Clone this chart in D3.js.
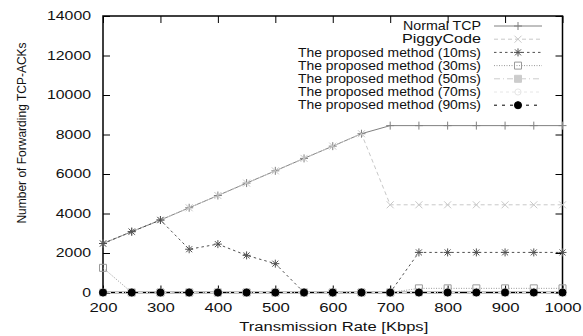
<!DOCTYPE html>
<html>
<head>
<meta charset="utf-8">
<script src="https://cdn.jsdelivr.net/npm/d3@7"></script>
<style>
  body { margin: 0; background: #fff; }
  text { font-family: "Liberation Sans", Arial, Helvetica, sans-serif; font-size: 12px; fill: #111; }
</style>
</head>
<body>
<svg id="chart" width="583" height="336"></svg>
<script>
// data
const rates = [200, 250, 300, 350, 400, 450, 500, 550, 600, 650, 700, 750, 800, 850, 900, 950, 1000];
const normalTcp = [2480, 3080, 3670, 4290, 4910, 5540, 6160, 6790, 7410, 8040, 8450, 8450, 8450, 8450, 8450, 8450, 8450];
const piggyCode = [2480, 3080, 3670, 4290, 4910, 5540, 6160, 6790, 7410, 8040, 4440, 4440, 4440, 4440, 4440, 4440, 4440];
const proposed10 = [2480, 3080, 3670, 2190, 2450, 1880, 1460, 0, 0, 0, 0, 2030, 2030, 2030, 2030, 2030, 2030];
const proposed30 = [1250, 0, 0, 0, 0, 0, 0, 0, 0, 0, 0, 210, 210, 210, 210, 210, 210];
const proposed50 = [0, 0, 0, 0, 0, 0, 0, 0, 0, 0, 0, 0, 0, 0, 0, 0, 0];
const proposed70 = [0, 0, 0, 0, 0, 0, 0, 0, 0, 0, 0, 0, 0, 0, 0, 0, 0];
const proposed90 = [0, 0, 0, 0, 0, 0, 0, 0, 0, 0, 0, 0, 0, 0, 0, 0, 0];
const xTicks = [200, 300, 400, 500, 600, 700, 800, 900, 1000];
const yTicks = [0, 2000, 4000, 6000, 8000, 10000, 12000, 14000];

const series = [
  { name: 'Normal TCP', values: normalTcp, color: '#808080', dash: null, marker: 'plus', textLen: 78 },
  { name: 'PiggyCode', values: piggyCode, color: '#c8c8c8', dash: '4,3', marker: 'times', textLen: 79 },
  { name: 'The proposed method (10ms)', values: proposed10, color: '#505050', dash: '2.5,3', marker: 'asterisk', textLen: 183 },
  { name: 'The proposed method (30ms)', values: proposed30, color: '#999999', dash: '1,1.5', marker: 'square', textLen: 183 },
  { name: 'The proposed method (50ms)', values: proposed50, color: '#cccccc', dash: '6,3,1,3', marker: 'squareFill', textLen: 183 },
  { name: 'The proposed method (70ms)', values: proposed70, color: '#e6e6e6', dash: '3,3', marker: 'circle', textLen: 183 },
  { name: 'The proposed method (90ms)', values: proposed90, color: '#000000', dash: '3,5', marker: 'circleFill', textLen: 183 }
];

const svg = d3.select('#chart');
const plot = { left: 103, right: 562.5, top: 16, bottom: 292.5 };

const x = d3.scaleLinear().domain([200, 1000]).range([plot.left, plot.right]);
const y = d3.scaleLinear().domain([0, 14000]).range([plot.bottom, plot.top]);
const fmt = d3.format('d');

// stretch labels horizontally like the reference
function stretch(sel, perChar) {
  sel.each(function () {
    const t = d3.select(this);
    t.attr('textLength', t.text().length * perChar).attr('lengthAdjust', 'spacingAndGlyphs');
  });
}

const gx = svg.append('g').attr('transform', `translate(0,${plot.bottom})`)
  .call(d3.axisBottom(x).tickValues(xTicks).tickFormat(fmt).tickSizeInner(-7).tickSizeOuter(0).tickPadding(10.5));
const gy = svg.append('g').attr('transform', `translate(${plot.left},0)`)
  .call(d3.axisLeft(y).tickValues(yTicks).tickFormat(fmt).tickSizeInner(-7).tickSizeOuter(0).tickPadding(12));
svg.append('g').attr('transform', `translate(0,${plot.top})`)
  .call(d3.axisTop(x).tickValues(xTicks).tickSizeInner(-7).tickSizeOuter(0).tickFormat(''));
svg.append('g').attr('transform', `translate(${plot.right},0)`)
  .call(d3.axisRight(y).tickValues(yTicks).tickSizeInner(-7).tickSizeOuter(0).tickFormat(''));

svg.selectAll('.domain').remove();
svg.selectAll('.tick line').attr('stroke', '#000').attr('stroke-width', 1);
svg.selectAll('g[font-size]').attr('font-size', null).attr('font-family', null);
gx.selectAll('text').call(stretch, 9.3);
gy.selectAll('text').call(stretch, 8.8);
svg.selectAll('.tick text').attr('fill', '#111');

svg.append('rect')
  .attr('x', plot.left).attr('y', plot.top)
  .attr('width', plot.right - plot.left).attr('height', plot.bottom - plot.top)
  .attr('fill', 'none').attr('stroke', '#000').attr('stroke-width', 1.5);

// axis titles
svg.append('text')
  .attr('x', (plot.left + plot.right) / 2 + 1).attr('y', 330.5)
  .attr('text-anchor', 'middle')
  .attr('textLength', 189).attr('lengthAdjust', 'spacingAndGlyphs')
  .text('Transmission Rate [Kbps]');
svg.append('text')
  .attr('transform', 'translate(26,133) rotate(-90)')
  .attr('text-anchor', 'middle')
  .text('Number of Forwarding TCP-ACKs');

function markerPath(type) {
  switch (type) {
    case 'plus': return 'M-4,0H4M0,-4V4';
    case 'times': return 'M-3.5,-3.5L3.5,3.5M-3.5,3.5L3.5,-3.5';
    case 'asterisk': return 'M-4,0H4M0,-4V4M-3,-3L3,3M-3,3L3,-3';
    case 'square':
    case 'squareFill': return 'M-3.5,-3.5H3.5V3.5H-3.5Z';
    default: return d3.symbol(d3.symbolCircle, type === 'circleFill' ? 40 : 30)();
  }
}
function drawMarker(g, type, color) {
  const filled = type === 'squareFill' || type === 'circleFill';
  g.append('path')
    .attr('d', markerPath(type))
    .attr('fill', filled ? color : 'none')
    .attr('stroke', color)
    .attr('stroke-width', 1);
}

const line = d3.line().x((d, i) => x(rates[i])).y(d => y(d));

series.forEach(s => {
  svg.append('path')
    .datum(s.values)
    .attr('d', line)
    .attr('fill', 'none')
    .attr('stroke', s.color)
    .attr('stroke-width', 1)
    .attr('stroke-dasharray', s.dash);
  s.values.forEach((v, i) => {
    const g = svg.append('g').attr('transform', `translate(${x(rates[i])},${y(v)})`);
    drawMarker(g, s.marker, s.color);
  });
});

// legend
const legend = svg.append('g');
series.forEach((s, i) => {
  const ly = 26 + i * 13.2;
  legend.append('text')
    .attr('x', 481).attr('y', ly).attr('dy', '0.35em')
    .attr('text-anchor', 'end')
    .attr('textLength', s.textLen).attr('lengthAdjust', 'spacingAndGlyphs')
    .text(s.name);
  legend.append('line')
    .attr('x1', 494).attr('x2', 542).attr('y1', ly).attr('y2', ly)
    .attr('stroke', s.color).attr('stroke-width', 1)
    .attr('stroke-dasharray', s.dash);
  drawMarker(legend.append('g').attr('transform', `translate(518,${ly})`), s.marker, s.color);
});
</script>
</body>
</html>
